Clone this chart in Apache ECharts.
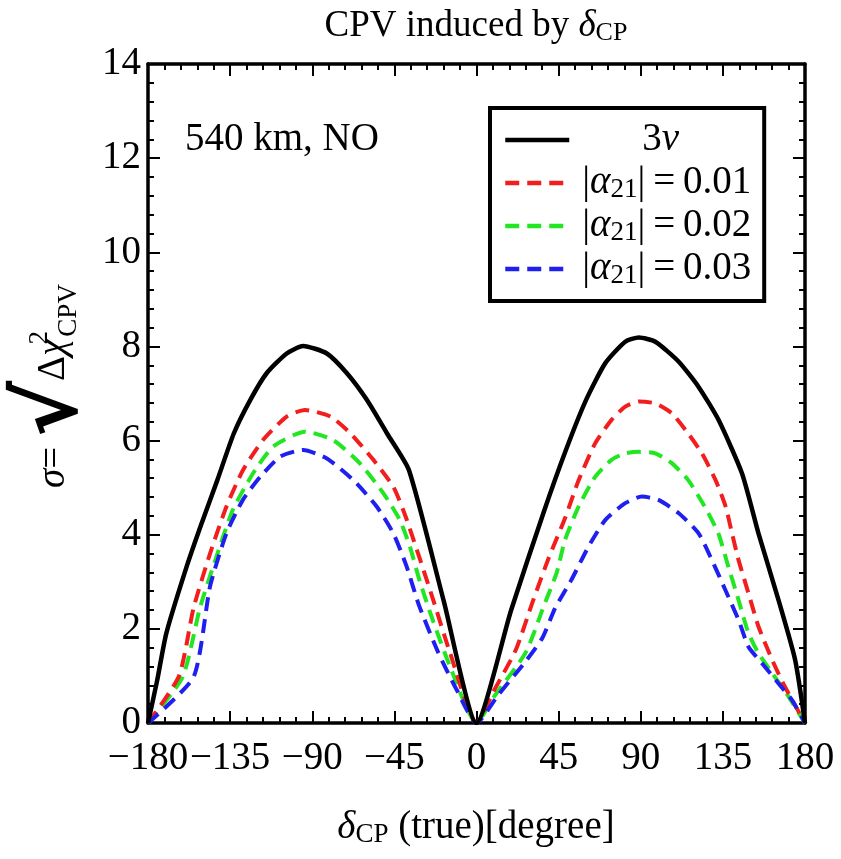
<!DOCTYPE html>
<html>
<head>
<meta charset="utf-8">
<script src="https://cdn.jsdelivr.net/npm/echarts@6/dist/echarts.min.js"></script>
<style>html,body{margin:0;padding:0;background:#fff;}#c{width:841px;height:859px;}</style>
</head>
<body>
<div id="c"></div>
<script>
// ---- data (delta_CP in degrees, sigma) ----
const xTicks = [-180, -135, -90, -45, 0, 45, 90, 135, 180];
const yTicks = [0, 2, 4, 6, 8, 10, 12, 14];
const seriesNames = ['3ν', '|α21|=0.01', '|α21|=0.02', '|α21|=0.03'];
const threeNu = [[-180,0],[-175,0.9],[-170,1.9],[-159,3.3],[-151,4.2],[-142,5.16],[-133,6.15],[-124,6.86],[-115,7.43],[-104,7.85],[-95,8.01],[-82,7.85],[-71,7.43],[-60,6.86],[-49,6.15],[-37,5.37],[-18,2.6],[0,0],[19,2.4],[37,4.5],[49,5.8],[60,6.86],[70.5,7.64],[81.5,8.10],[89,8.19],[98,8.10],[110.7,7.68],[121.7,7.14],[132.6,6.44],[145.5,5.30],[154.5,4.03],[165.5,2.61],[174.6,1.34],[180,0]];
const alpha001 = [[-180,0],[-163,1.0],[-155,2.45],[-146,3.6],[-137,4.6],[-128,5.37],[-117,6.01],[-104,6.51],[-94,6.65],[-80,6.51],[-69,6.15],[-56.5,5.59],[-45.6,5.02],[-38.5,4.35],[-24,2.65],[-15,1.55],[0,0],[10,0.72],[21.5,1.55],[31,2.6],[39.5,3.5],[48.5,4.35],[56,5.16],[65,5.94],[74,6.44],[81.5,6.72],[89,6.83],[98,6.79],[107,6.58],[116,6.15],[123.5,5.73],[131,5.16],[136.5,4.6],[140,4.03],[143.6,3.46],[149,2.76],[154.5,2.05],[162,1.34],[169,0.77],[180,0]];
const alpha002 = [[-180,0],[-161,0.98],[-151.5,2.45],[-142.5,3.53],[-133.5,4.53],[-122.5,5.3],[-111.5,5.87],[-94,6.19],[-78.5,6.01],[-64,5.52],[-51,4.88],[-42,4.31],[-36.5,3.75],[-31,3.0],[-24,2.19],[-14.5,1.2],[0,0],[10,0.58],[27,1.5],[37,2.5],[44,3.2],[48.5,3.89],[56,4.6],[65,5.23],[74,5.59],[81.5,5.73],[89,5.76],[98,5.73],[107,5.52],[116,5.16],[125,4.6],[132.5,4.03],[138,3.32],[143.6,2.61],[149,1.91],[154.5,1.48],[162,1.06],[171,0.56],[180,0]];
const alpha003 = [[-180,0],[-155,0.98],[-146,2.9],[-137,4.03],[-128,4.74],[-118.5,5.23],[-107.5,5.66],[-95,5.8],[-82,5.62],[-67.5,5.16],[-54.7,4.6],[-45.6,4.03],[-38.5,3.35],[-31.5,2.5],[-21,1.5],[-10.8,0.7],[0,0],[12,0.6],[26.7,1.3],[36,1.8],[43.2,2.45],[52,3.04],[61.4,3.75],[70.5,4.31],[81.5,4.67],[90.6,4.81],[99.7,4.74],[110.7,4.46],[121.7,4.03],[129,3.46],[136.3,2.83],[143.6,2.19],[149,1.62],[156.4,1.27],[165.5,0.84],[172.8,0.49],[180,0]];

const FONT = 'Liberation Serif';
const FS = 39;
const chart = echarts.init(document.getElementById('c'), null, {renderer: 'canvas'});

function fmtX(v) { return v < 0 ? '\u2212' + Math.abs(v) : String(v); }

const commonAxis = {
  axisLine: {show: true, onZero: false, lineStyle: {color: '#000', width: 3.5}},
  axisTick: {show: true, inside: true, length: 12, lineStyle: {color: '#000', width: 2}},
  minorTick: {show: true, splitNumber: 5, length: 6, lineStyle: {color: '#000', width: 2}},
  splitLine: {show: false},
  minorSplitLine: {show: false}
};

const richBase = {
  n: {fontFamily: FONT, fontSize: FS, color: '#000', lineHeight: 40},
  i: {fontFamily: FONT, fontSize: FS, fontStyle: 'italic', color: '#000', lineHeight: 40},
  sub: {fontFamily: FONT, fontSize: 27, color: '#000', lineHeight: 14, verticalAlign: 'bottom'},
  g: {width: 8, lineHeight: 40},
  pad: {width: 60, lineHeight: 40}
};

const lineSeries = [
  {name: seriesNames[0], data: threeNu, color: '#000', width: 4.5, type: 'solid', z: 5},
  {name: seriesNames[1], data: alpha001, color: '#f21d1d', width: 4, type: [14, 8], z: 4},
  {name: seriesNames[2], data: alpha002, color: '#22e622', width: 4, type: [14, 8], z: 3},
  {name: seriesNames[3], data: alpha003, color: '#1f1ff0', width: 4, type: [14, 8], z: 4}
].map(s => ({
  type: 'line', name: s.name, data: s.data, symbol: 'none', showSymbol: false,
  smooth: 0.2, z: s.z,
  xAxisIndex: 0, yAxisIndex: 0,
  lineStyle: {color: s.color, width: s.width, type: s.type, cap: 'butt', join: 'round'},
  itemStyle: {color: s.color},
  emphasis: {disabled: true}
}));

const option = {
  backgroundColor: '#fff',
  animation: false,
  grid: {left: 148, right: 36, top: 64, bottom: 136, containLabel: false},
  xAxis: [
    Object.assign({}, commonAxis, {
      type: 'value', min: xTicks[0], max: xTicks[xTicks.length - 1], interval: 45, position: 'bottom',
      axisLabel: {show: true, margin: 16, formatter: fmtX, fontFamily: FONT, fontSize: FS, color: '#000'}
    }),
    Object.assign({}, commonAxis, {
      type: 'value', min: xTicks[0], max: xTicks[xTicks.length - 1], interval: 45, position: 'top',
      axisLabel: {show: false}
    })
  ],
  yAxis: [
    Object.assign({}, commonAxis, {
      type: 'value', min: yTicks[0], max: yTicks[yTicks.length - 1], interval: 2, position: 'left',
      axisLabel: {show: true, margin: 7, fontFamily: FONT, fontSize: FS, color: '#000'}
    }),
    Object.assign({}, commonAxis, {
      type: 'value', min: yTicks[0], max: yTicks[yTicks.length - 1], interval: 2, position: 'right',
      axisLabel: {show: false}
    })
  ],
  legend: {
    show: true, orient: 'vertical', left: 490, top: 108,
    padding: [12, 13, 12, 13], itemGap: 3, itemWidth: 64, itemHeight: 14,
    borderColor: '#000', borderWidth: 4, backgroundColor: '#fff',
    selectedMode: false,
    itemStyle: {opacity: 0, borderWidth: 0},
    lineStyle: {width: 4.5, opacity: 1},
    data: seriesNames,
    formatter: function (name) {
      if (name === '3ν') return '{g|}{pad|}{n|3}{i|ν}';
      const v = name.split('=')[1];
      return '{g|}{n||}{i|α}{sub|21}{n||\u2009=\u2009' + v + '}';
    },
    textStyle: {fontFamily: FONT, fontSize: FS, color: '#000', lineHeight: 40, rich: richBase}
  },
  graphic: [
    {
      type: 'text', x: 476, y: 26,
      style: {
        text: '{n|CPV induced by }{i|δ}{sub|CP}',
        align: 'center', verticalAlign: 'middle',
        rich: {
          n: {fontFamily: FONT, fontSize: 37, color: '#000', lineHeight: 40},
          i: {fontFamily: FONT, fontSize: 37, fontStyle: 'italic', color: '#000', lineHeight: 40},
          sub: {fontFamily: FONT, fontSize: 26, color: '#000', lineHeight: 14, verticalAlign: 'bottom'}
        }
      }
    },
    {
      type: 'text', x: 185, y: 140,
      style: {
        text: '540 km, NO', fontFamily: FONT, fontSize: FS, fill: '#000',
        align: 'left', verticalAlign: 'middle'
      }
    },
    {
      type: 'text', x: 476, y: 828,
      style: {
        text: '{i|δ}{sub|CP}{n| (true)[degree]}',
        align: 'center', verticalAlign: 'middle',
        rich: richBase
      }
    },
    {
      type: 'text', x: 54, y: 386, rotation: Math.PI / 2,
      style: {
        text: '{i|σ}{n|= }{sq|√}{n|Δ}{i|χ}{sup|2}{sub|CPV}',
        align: 'center', verticalAlign: 'middle',
        rich: {
          n: {fontFamily: FONT, fontSize: FS, color: '#000', lineHeight: 56},
          i: {fontFamily: FONT, fontSize: FS, fontStyle: 'italic', color: '#000', lineHeight: 56},
          sq: {fontFamily: 'DejaVu Sans', fontSize: 84, fontWeight: 'bold', color: '#000', lineHeight: 56},
          sup: {fontFamily: FONT, fontSize: 27, color: '#000', lineHeight: 14, verticalAlign: 'top', width: 2},
          sub: {fontFamily: FONT, fontSize: 27, color: '#000', lineHeight: 14, verticalAlign: 'bottom'}
        }
      }
    }
  ],
  series: lineSeries
};
chart.setOption(option);
</script>
</body>
</html>
